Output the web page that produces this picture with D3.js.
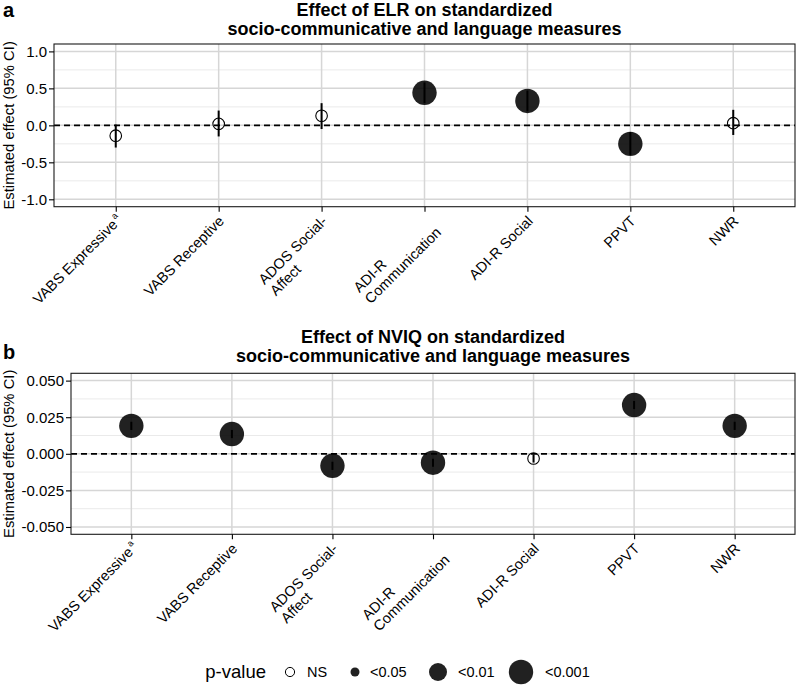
<!DOCTYPE html>
<html>
<head>
<meta charset="utf-8">
<script src="https://cdn.jsdelivr.net/npm/d3@7"></script>
<style>
  html, body { margin: 0; padding: 0; background: #fff; }
  text { font-family: "Liberation Sans", Arial, Helvetica, sans-serif; }
</style>
</head>
<body>
<svg id="chart" width="797" height="686"></svg>
<script>
// ---------------- DATA ----------------
const categories = ["VABS Expressive", "VABS Receptive", "ADOS Social-\nAffect", "ADI-R\nCommunication", "ADI-R Social", "PPVT", "NWR"];
const categorySuperscripts = ["a", "", "", "", "", "", ""];

const elrEstimate = [-0.14, 0.02, 0.13, 0.44, 0.33, -0.25, 0.03];
const elrLower    = [-0.30, -0.15, -0.05, 0.30, 0.19, -0.40, -0.13];
const elrUpper    = [0.01, 0.20, 0.30, 0.58, 0.47, -0.09, 0.21];
const elrPValue   = ["NS", "NS", "NS", "<0.001", "<0.001", "<0.001", "NS"];

const nviqEstimate = [0.0191, 0.0135, -0.0082, -0.0061, -0.0032, 0.0333, 0.0191];
const nviqLower    = [0.0163, 0.0107, -0.0110, -0.0089, -0.0060, 0.0305, 0.0163];
const nviqUpper    = [0.0219, 0.0163, -0.0054, -0.0033, -0.0004, 0.0361, 0.0219];
const nviqPValue   = ["<0.001", "<0.001", "<0.001", "<0.001", "NS", "<0.001", "<0.001"];

const elrTicks = [-1.0, -0.5, 0.0, 0.5, 1.0];
const elrTickLabels = ["-1.0", "-0.5", "0.0", "0.5", "1.0"];
const elrMinor = [-0.75, -0.25, 0.25, 0.75];
const nviqTicks = [-0.05, -0.025, 0, 0.025, 0.05];
const nviqTickLabels = ["-0.050", "-0.025", "0.000", "0.025", "0.050"];
const nviqMinor = [-0.0375, -0.0125, 0.0125, 0.0375];

const pLevels = ["NS", "<0.05", "<0.01", "<0.001"];
const legendTitle = "p-value";

const titleA = ["Effect of ELR on standardized", "socio-communicative and language measures"];
const titleB = ["Effect of NVIQ on standardized", "socio-communicative and language measures"];
const yTitle = "Estimated effect (95% CI)";

// ---------------- STYLE ----------------
const sizeScale = d3.scaleOrdinal().domain(pLevels).range([5.8, 4.5, 9, 12.2]);
const FONT = 14.5;
const TICKFONT = 15;

const svg = d3.select("#chart");

function panel(cfg) {
  const g = svg.append("g");
  const x = d3.scalePoint().domain(categories).range([cfg.left, cfg.right]).padding(0.6);
  const y = d3.scaleLinear().domain(cfg.domain).range([cfg.bottom, cfg.top]);

  // minor grid
  g.selectAll(".minor").data(cfg.minor).join("line")
    .attr("x1", cfg.left).attr("x2", cfg.right)
    .attr("y1", d => y(d)).attr("y2", d => y(d))
    .attr("stroke", "#e8e8e8").attr("stroke-width", 0.9);
  // major grid
  g.selectAll(".major").data(cfg.ticks).join("line")
    .attr("x1", cfg.left).attr("x2", cfg.right)
    .attr("y1", d => y(d)).attr("y2", d => y(d))
    .attr("stroke", "#d6d6d6").attr("stroke-width", 1.5);
  g.selectAll(".vmajor").data(categories).join("line")
    .attr("x1", d => x(d)).attr("x2", d => x(d))
    .attr("y1", cfg.top).attr("y2", cfg.bottom)
    .attr("stroke", "#d6d6d6").attr("stroke-width", 1.5);

  // zero line
  g.append("line")
    .attr("x1", cfg.left).attr("x2", cfg.right)
    .attr("y1", y(0)).attr("y2", y(0))
    .attr("stroke", "#000").attr("stroke-width", 1.7)
    .attr("stroke-dasharray", "6,4");

  const rows = categories.map((c, i) => ({
    cat: c, est: cfg.est[i], lo: cfg.lo[i], hi: cfg.hi[i], p: cfg.p[i]
  }));

  // CI lines
  g.selectAll(".ci").data(rows).join("line")
    .attr("x1", d => x(d.cat)).attr("x2", d => x(d.cat))
    .attr("y1", d => y(d.lo)).attr("y2", d => y(d.hi))
    .attr("stroke", "#000").attr("stroke-width", 2);

  // points
  g.selectAll(".pt").data(rows).join("circle")
    .attr("cx", d => x(d.cat)).attr("cy", d => y(d.est))
    .attr("r", d => sizeScale(d.p))
    .attr("fill", d => d.p === "NS" ? "none" : "#000")
    .attr("fill-opacity", 0.87)
    .attr("stroke", d => d.p === "NS" ? "#000" : "none")
    .attr("stroke-width", 1.1);

  // border
  g.append("rect")
    .attr("x", cfg.left).attr("y", cfg.top)
    .attr("width", cfg.right - cfg.left).attr("height", cfg.bottom - cfg.top)
    .attr("fill", "none").attr("stroke", "#1a1a1a").attr("stroke-width", 1.1);

  // y axis
  const yAxis = d3.axisLeft(y).tickValues(cfg.ticks)
    .tickFormat((d, i) => cfg.tickLabels[i]).tickSize(5).tickPadding(2);
  const ya = g.append("g").attr("transform", `translate(${cfg.left},0)`).call(yAxis);
  ya.select(".domain").remove();
  ya.selectAll(".tick line").attr("stroke", "#000").attr("stroke-width", 1.1);
  ya.selectAll(".tick text").attr("font-size", TICKFONT).attr("fill", "#000")
    .attr("font-family", '"Liberation Sans", Arial, sans-serif');

  // x axis ticks
  const xAxis = d3.axisBottom(x).tickSize(5).tickFormat("");
  const xa = g.append("g").attr("transform", `translate(0,${cfg.bottom})`).call(xAxis);
  xa.select(".domain").remove();
  xa.selectAll(".tick line").attr("stroke", "#000").attr("stroke-width", 1.1);

  // rotated category labels
  const lh = FONT * 1.1;
  categories.forEach((c, i) => {
    const lines = c.split("\n");
    const lg = g.append("g")
      .attr("transform", `translate(${x(c) - 1},${cfg.bottom + 8}) rotate(-45)`);
    const texts = lines.map((ln, j) => {
      const t = lg.append("text")
        .attr("font-size", FONT).attr("fill", "#000")
        .attr("y", j * lh).attr("dy", "0.71em")
        .text(ln);
      if (j === lines.length - 1 && categorySuperscripts[i]) {
        t.append("tspan").attr("font-size", FONT * 0.62).attr("dy", "-0.75em").attr("dx", "1.5").text(categorySuperscripts[i]);
      }
      return t;
    });
    const w = d3.max(texts, t => t.node().getComputedTextLength());
    texts.forEach(t => t.attr("x", -w));
  });

  // y title
  svg.append("text")
    .attr("transform", `translate(${cfg.yTitleX},${(cfg.top + cfg.bottom) / 2}) rotate(-90)`)
    .attr("text-anchor", "middle").attr("dy", "0.35em")
    .attr("font-size", 14.8).attr("fill", "#000")
    .text(yTitle);

  // title
  const cx = (cfg.left + cfg.right) / 2;
  cfg.title.forEach((t, j) => {
    svg.append("text")
      .attr("x", cx).attr("y", cfg.titleY + j * 18.5)
      .attr("text-anchor", "middle").attr("font-weight", "bold")
      .attr("font-size", 18).attr("fill", "#000")
      .text(t);
  });
  // panel tag
  svg.append("text")
    .attr("x", 3).attr("y", cfg.tagY)
    .attr("font-weight", "bold").attr("font-size", 20).attr("fill", "#000")
    .text(cfg.tag);
}

panel({
  left: 54, right: 795, top: 44, bottom: 206.7,
  domain: [-1.1, 1.1], ticks: elrTicks, tickLabels: elrTickLabels, minor: elrMinor,
  est: elrEstimate, lo: elrLower, hi: elrUpper, p: elrPValue,
  title: titleA, titleY: 16, tag: "a", tagY: 17, yTitleX: 9
});

panel({
  left: 71, right: 795, top: 373.3, bottom: 534.3,
  domain: [-0.055, 0.055], ticks: nviqTicks, tickLabels: nviqTickLabels, minor: nviqMinor,
  est: nviqEstimate, lo: nviqLower, hi: nviqUpper, p: nviqPValue,
  title: titleB, titleY: 343, tag: "b", tagY: 359, yTitleX: 9
});

// ---------------- LEGEND ----------------
const legendY = 672;
const legend = svg.append("g");
legend.append("text")
  .attr("x", 266).attr("y", legendY).attr("dy", "0.35em")
  .attr("text-anchor", "end").attr("font-size", 18.5).attr("fill", "#000")
  .text(legendTitle);
const keyX = [290, 355, 438, 521];
const labX = [307, 370, 458, 545];
pLevels.forEach((lv, i) => {
  legend.append("circle")
    .attr("cx", keyX[i]).attr("cy", legendY)
    .attr("r", i === 0 ? 4.6 : sizeScale(lv))
    .attr("fill", lv === "NS" ? "#fff" : "#000").attr("fill-opacity", lv === "NS" ? 1 : 0.87)
    .attr("stroke", lv === "NS" ? "#000" : "none").attr("stroke-width", 1);
  legend.append("text")
    .attr("x", labX[i]).attr("y", legendY).attr("dy", "0.35em")
    .attr("font-size", 14.5).attr("fill", "#000")
    .text(lv);
});
</script>
</body>
</html>
